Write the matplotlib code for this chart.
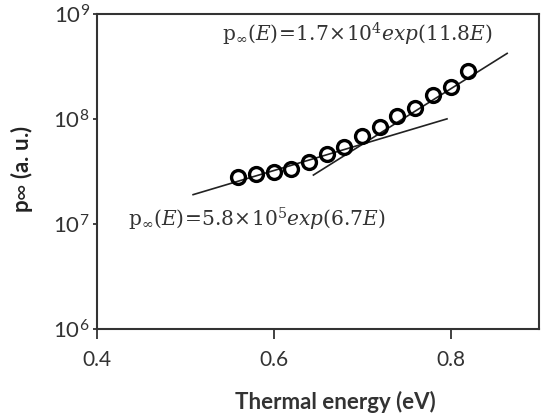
import numpy as np
import matplotlib
matplotlib.use("Agg")
import matplotlib.pyplot as plt

energy = [0.56, 0.58, 0.60, 0.62, 0.64, 0.66, 0.68, 0.70, 0.72, 0.74, 0.76, 0.78, 0.80, 0.82]
p_inf = [2.81e7, 2.97e7, 3.15e7, 3.3e7, 3.86e7, 4.65e7, 5.4e7, 6.8e7, 8.3e7,
         1.06e8, 1.28e8, 1.69e8, 1.99e8, 2.85e8]

# fitted lines, end points as drawn
fit_low_E = [0.509, 0.796]
fit_low_p = [1.9e7, 1.0e8]
fit_high_E = [0.645, 0.864]
fit_high_p = [2.92e7, 4.2e8]

xticks = [0.4, 0.6, 0.8]
yticks = [1e6, 1e7, 1e8, 1e9]
ytick_labels = [r'$\mathsf{10^{6}}$', r'$\mathsf{10^{7}}$', r'$\mathsf{10^{8}}$', r'$\mathsf{10^{9}}$']

label_high = r'$\mathrm{p}_{\infty}(E)\!=\!1.7\!\times\!10^{4}exp(11.8E)$'
label_low = r'$\mathrm{p}_{\infty}(E)\!=\!5.8\!\times\!10^{5}exp(6.7E)$'

plt.rcParams['font.family'] = ['Lato', 'DejaVu Sans']
plt.rcParams['mathtext.fontset'] = 'custom'
plt.rcParams['mathtext.rm'] = 'DejaVu Serif'
plt.rcParams['mathtext.it'] = 'DejaVu Serif:italic'
plt.rcParams['mathtext.sf'] = 'Lato'

fig = plt.figure(figsize=(5.41, 4.18), dpi=100)
ax = fig.add_axes([0.1787, 0.2129, 0.8176, 0.7541])

ax.plot(fit_low_E, fit_low_p, color='#222222', lw=1.2)
ax.plot(fit_high_E, fit_high_p, color='#222222', lw=1.2)
ax.plot(energy, p_inf, 'o', ms=10, mfc='none', mec='black', mew=2.4)

ax.set_yscale('log')
ax.set_xlim(0.4, 0.9)
ax.set_ylim(1e6, 1e9)
ax.set_xticks(xticks)
ax.set_xticklabels([str(t) for t in xticks])
ax.set_yticks(yticks)
ax.set_yticklabels(ytick_labels)
ax.minorticks_off()
ax.tick_params(axis='x', direction='out', length=7, width=1.3, labelsize=15, pad=8, colors='#333333')
ax.tick_params(axis='y', direction='out', length=3, width=1.3, labelsize=16, pad=2, colors='#333333')
for s in ax.spines.values():
    s.set_linewidth(1.5)
    s.set_color('#333333')

ax.set_xlabel('Thermal energy (eV)', fontsize=16, fontweight='bold', color='#333333')
ax.xaxis.set_label_coords(0.54, -0.195)
ax.set_ylabel(r'p$\mathsf{\infty}$ (a. u.)', fontsize=16, fontweight='bold', color='#222222')
ax.yaxis.set_label_coords(-0.14, 0.508)

ax.text(0.542, 6.35e8, label_high, fontsize=14.5, ha='left', va='center', color='#333333')
ax.text(0.435, 1.1e7, label_low, fontsize=14.5, ha='left', va='center', color='#333333')

fig.savefig('out.png', dpi=100)
